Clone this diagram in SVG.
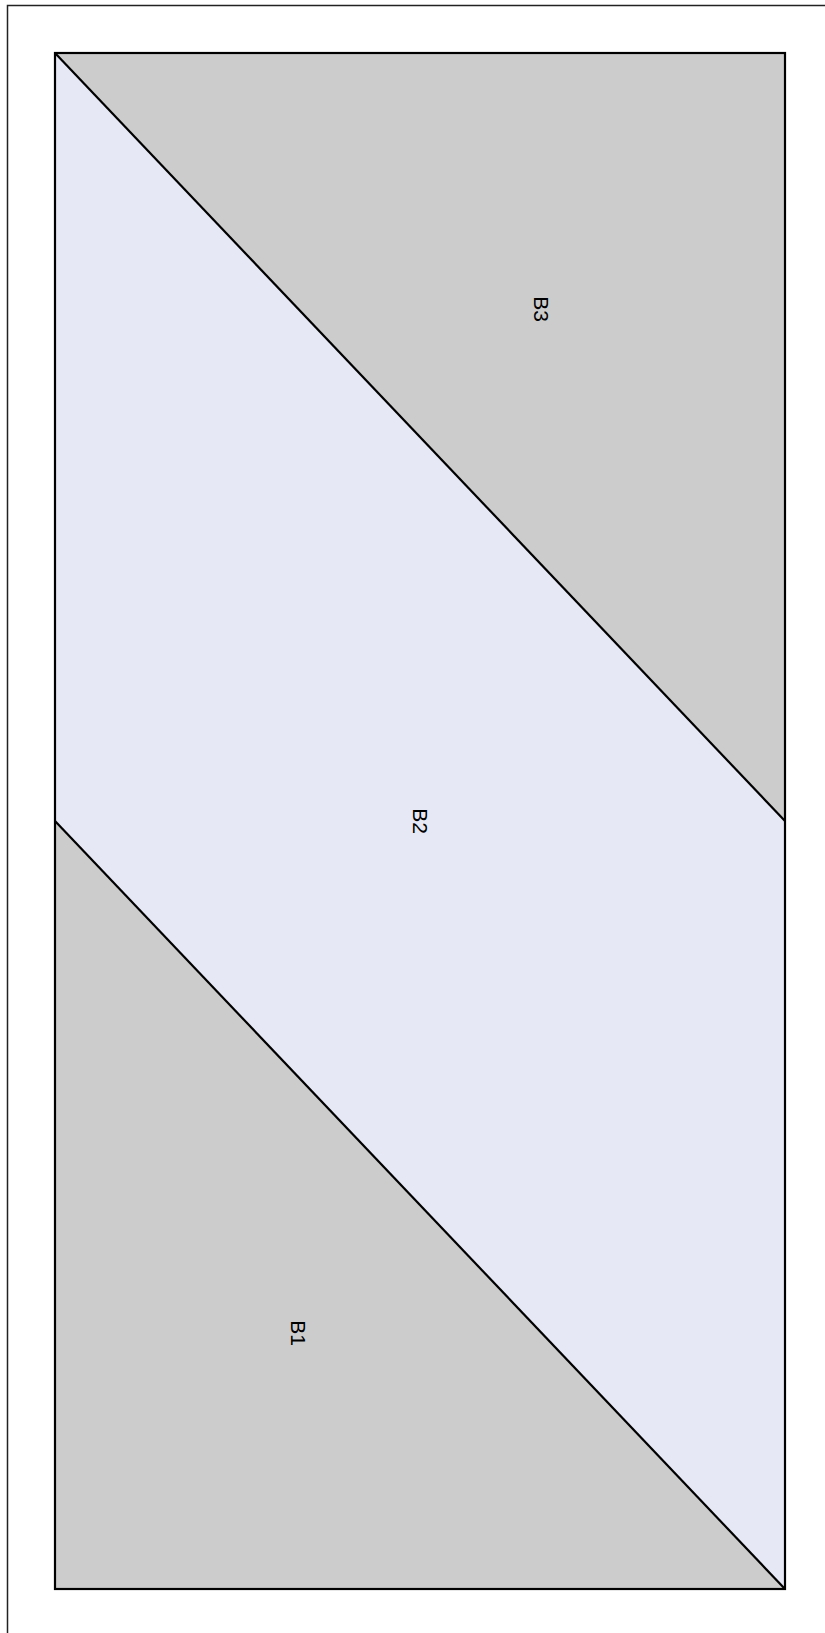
<svg xmlns="http://www.w3.org/2000/svg" width="825" height="1633" viewBox="0 0 825 1633">
<style>
.edge{stroke:#000;stroke-width:2.2;fill:none;stroke-linejoin:miter}
.gray{fill:#cccccc}
.lav{fill:#e6e8f5}
.lbl{font-family:"Liberation Sans",Arial,sans-serif;font-size:21px;fill:#000;text-anchor:middle;dominant-baseline:central}
</style>
<rect x="0" y="0" width="825" height="1633" fill="#fff"/>
<rect x="7.5" y="5.5" width="830" height="1640" fill="none" stroke="#222" stroke-width="1.5"/>
<g id="B3">
<polygon class="gray" points="55,53 785,53 785,821"/>
<text class="lbl" transform="translate(541,309) rotate(90)">B3</text>
</g>
<g id="B2">
<polygon class="lav" points="55,53 785,821 785,1589 55,821"/>
<text class="lbl" transform="translate(420,821) rotate(90)">B2</text>
</g>
<g id="B1">
<polygon class="gray" points="55,821 785,1589 55,1589"/>
<text class="lbl" transform="translate(298,1333) rotate(90)">B1</text>
</g>
<g id="connectors">
<rect class="edge" x="55" y="53" width="730" height="1536"/>
<line class="edge" x1="55" y1="53" x2="785" y2="821"/>
<line class="edge" x1="55" y1="821" x2="785" y2="1589"/>
</g>
</svg>
